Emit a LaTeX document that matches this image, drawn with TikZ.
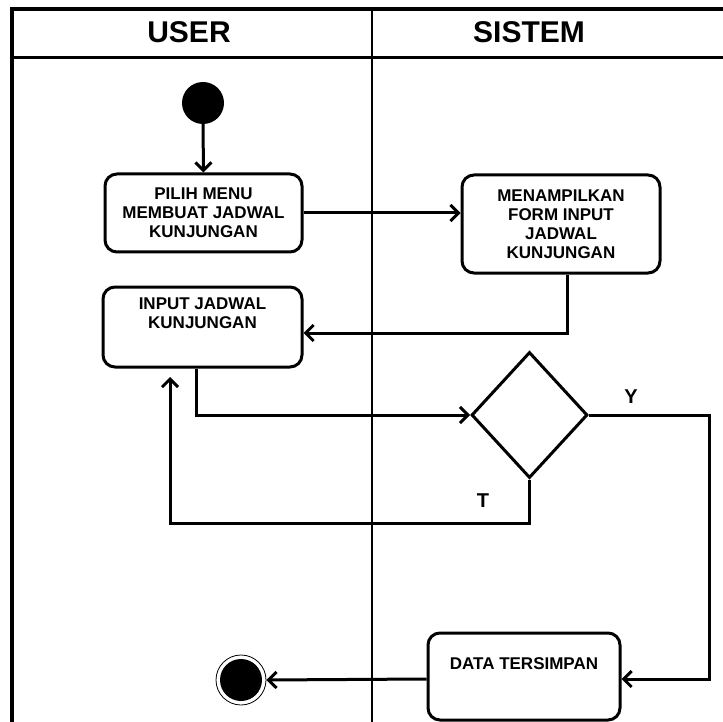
\documentclass[tikz,border=0pt]{standalone}
\usepackage{fontspec}
\setmainfont{Liberation Sans}
\usetikzlibrary{arrows.meta,shapes.geometric}
\begin{document}
\begin{tikzpicture}[x=1pt,y=-1pt,
  actbox/.style={draw, line width=3pt, rounded corners=12pt, inner sep=0pt},
  boxtext/.style={font=\bfseries\fontsize{17}{19}\selectfont, align=center, inner sep=0pt},
  head/.style={font=\bfseries\fontsize{30}{36}\selectfont, inner sep=0pt},
  flow/.style={line width=3pt, -{Straight Barb[length=8pt,width=16pt,line width=3pt]}},
  lbl/.style={font=\bfseries\fontsize{20}{24}\selectfont, inner sep=0pt}]
\useasboundingbox (0,0) rectangle (723,722);
\fill[white] (0,0) rectangle (723,722);
% frame
\coordinate (tl) at (12,9.5);
\coordinate (tr) at (723,9.5);
\coordinate (hl) at (12,57.5);
\coordinate (hr) at (723,57.5);
\coordinate (bl) at (12,722);
\coordinate (dt) at (372,9.5);
\coordinate (db) at (372,722);
\draw[line width=4pt] (10,9.5) -- (tr);
\draw[line width=4pt] (tl) -- (bl);
\draw[line width=3pt] (hl) -- (hr);
\draw[line width=2pt] (dt) -- (db);
\node[head] (huser) at (189,32) {USER};
\node[head] (hsis) at (529,32) {SISTEM};
% nodes
\node[circle, fill=black, minimum size=42pt, inner sep=0pt] (start) at (203,103) {};
\node[actbox, minimum width=197pt, minimum height=78pt] (b1) at (203.5,213) {};
\node[boxtext] (t1) at (b1.center) {PILIH MENU\\MEMBUAT JADWAL\\KUNJUNGAN};
\node[actbox, minimum width=198pt, minimum height=98pt] (b2) at (561,224) {};
\node[boxtext] (t2) at (b2.center) {MENAMPILKAN\\FORM INPUT\\JADWAL\\KUNJUNGAN};
\node[actbox, minimum width=199pt, minimum height=80pt] (b3) at (202.5,327) {};
\node[boxtext, anchor=north] (t3) at (202.5,298) {INPUT JADWAL\\KUNJUNGAN};
\node[draw, line width=3pt, diamond, aspect=0.92, minimum width=116pt, minimum height=126pt, inner sep=0pt] (dec) at (529.5,415) {};
\node[actbox, minimum width=192pt, minimum height=87pt] (b4) at (524,676.5) {};
\node[boxtext, anchor=north] (t4) at (524,657) {DATA TERSIMPAN};
\node[circle, draw=black, line width=0.8pt, minimum size=50pt, inner sep=0pt] (endo) at (241,680) {};
\node[circle, fill=black, minimum size=42pt, inner sep=0pt] (endi) at (241,680) {};
% connectors
\coordinate (c1) at (567,333);
\coordinate (c2) at (196,415);
\coordinate (c3) at (529.5,523);
\coordinate (c4) at (170,523);
\coordinate (c5) at (170,377);
\coordinate (c6) at (709,415);
\coordinate (c7) at (709,679);
\draw[flow] (start.south) -- (b1.north);
\draw[flow] (b1.east) -- (b2.west |- b1.east);
\draw[flow] (b2.south -| c1) -- (c1) -- (b3.east |- c1);
\draw[flow] (b3.south -| c2) -- (c2) -- (dec.west);
\draw[flow] (dec.south) -- (c3) -- (c4) -- (c5);
\draw[flow] (dec.east) -- (c6) -- (c7) -- (b4.east |- c7);
\draw[flow] (b4.west |- c7) -- (endo.east);
\node[lbl] (ly) at (631,397) {Y};
\node[lbl] (lt) at (483,501) {T};
\end{tikzpicture}
\end{document}
